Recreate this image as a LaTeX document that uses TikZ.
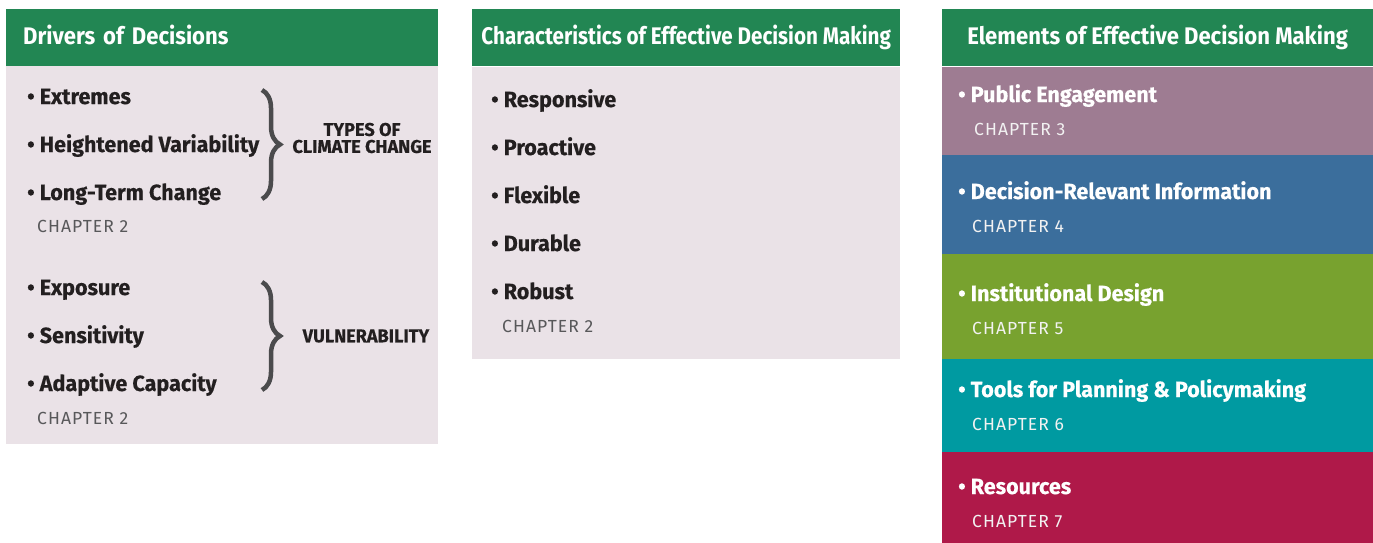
\documentclass[tikz,border=0pt]{standalone}
\usepackage{fontspec}
\setmainfont{Fira Sans}
\newfontfamily\headfont{Fira Sans}[FakeStretch=0.92]
\newfontfamily\headnarrow{Fira Sans}[FakeStretch=0.86]
\newfontfamily\itemfont{Fira Sans}[FakeStretch=0.98, BoldFeatures={FakeBold=0.4}]
\newfontfamily\chapfont{Fira Sans}[LetterSpace=6.0]
\usepackage{xcolor}
\usepackage{tikz}
\usetikzlibrary{positioning,decorations.pathreplacing}

\definecolor{hdgreen}{HTML}{228653}
\definecolor{bodygrey}{HTML}{EAE2E7}
\definecolor{txtdark}{HTML}{231F20}
\definecolor{chapgrey}{HTML}{58585A}
\definecolor{bracegrey}{HTML}{4B4B4D}
\definecolor{bandpurple}{HTML}{9E7C92}
\definecolor{bandblue}{HTML}{3B6E9C}
\definecolor{bandgreen}{HTML}{78A22F}
\definecolor{bandteal}{HTML}{009AA1}
\definecolor{bandred}{HTML}{AF1949}

\begin{document}
\begin{tikzpicture}[
  x=1pt, y=-1pt,
  head/.style={fill=hdgreen, text=white, anchor=north west, inner sep=0pt,
               minimum height=57, text height=18, text depth=5,
               font=\headfont\bfseries\fontsize{24}{26}\selectfont},
  panel/.style={fill=bodygrey, anchor=north west, inner sep=0pt},
  band/.style={anchor=north west, inner sep=0pt, minimum width=431},
  item/.style={anchor=base west, inner sep=0pt, text=txtdark,
               font=\itemfont\bfseries\fontsize{22}{24}\selectfont},
  chap/.style={anchor=base west, inner sep=0pt, text=chapgrey,
               font=\chapfont\fontsize{17.5}{19}\selectfont},
  tag/.style={align=center, inner sep=0pt, text=txtdark,
              font=\itemfont\bfseries\fontsize{18.5}{17}\selectfont},
  brace/.style={decorate, decoration={brace, amplitude=18pt}, line width=4.5pt, draw=bracegrey}
]
\useasboundingbox (0,0) rectangle (1373,543);

%% --- Drivers of Decisions ---
\node[panel, minimum width=432, minimum height=378] (drv) at (6,66) {};
\node[head, minimum width=432, text width=398, inner xsep=17, align=left] (drvhead) at (6,9) {Drivers of Decisions};
\foreach \txt [count=\i] in {Extremes, Heightened Variability, Long-Term Change}
  \node[item] (clim\i) at (27,56+48*\i) {• \txt};
\node[chap] (climchap) at (37,232) {CHAPTER 2};
\foreach \txt [count=\i] in {Exposure, Sensitivity, Adaptive Capacity}
  \node[item] (vul\i) at (27,247+48*\i) {• \txt};
\node[chap] (vulchap) at (37,424) {CHAPTER 2};

%% --- braces ---
\coordinate (b1top) at (262,90);
\coordinate (b1bot) at (262,199);
\coordinate (b2top) at (262,282);
\coordinate (b2bot) at (262,390);
\draw[brace] (b1top) -- (b1bot);
\draw[brace] (b2top) -- (b2bot);
\node[tag] (types) at (362,138) {TYPES OF\\CLIMATE CHANGE};
\node[tag] (vulner) at (366,336) {VULNERABILITY};

%% --- Characteristics ---
\node[panel, minimum width=428, minimum height=292] (chr) at (472,67) {};
\node[head, minimum width=428, align=center, font=\headnarrow\bfseries\fontsize{24}{26}\selectfont] (chrhead) at (472,9) {Characteristics of Effective Decision Making};
\foreach \txt [count=\i] in {Responsive, Proactive, Flexible, Durable, Robust}
  \node[item] (char\i) at (491,59+48*\i) {• \txt};
\node[chap] (charchap) at (502,332) {CHAPTER 2};

%% --- Elements ---
\node[head, minimum width=431, align=center] (elmhead) at (942,9) {Elements of Effective Decision Making};
\foreach \nm/\col/\top/\ht/\base/\txt/\chp/\chx in {
    pub/bandpurple/67/88/102/Public Engagement/3/974,
    info/bandblue/155/99/199/Decision-Relevant Information/4/972,
    inst/bandgreen/254/105/301/Institutional Design/5/972,
    tools/bandteal/359/93/397/Tools for Planning \& Policymaking/6/972,
    res/bandred/452/91/494/Resources/7/972} {
  \node[band, fill=\col, minimum height=\ht] (\nm) at (942,\top) {};
  \node[item, text=white] (\nm-txt) at (958,\base) {• \txt};
  \node[chap, text=white!90!gray] (\nm-chap) at (\chx,\base+33) {CHAPTER \chp};
}
\end{tikzpicture}
\end{document}
